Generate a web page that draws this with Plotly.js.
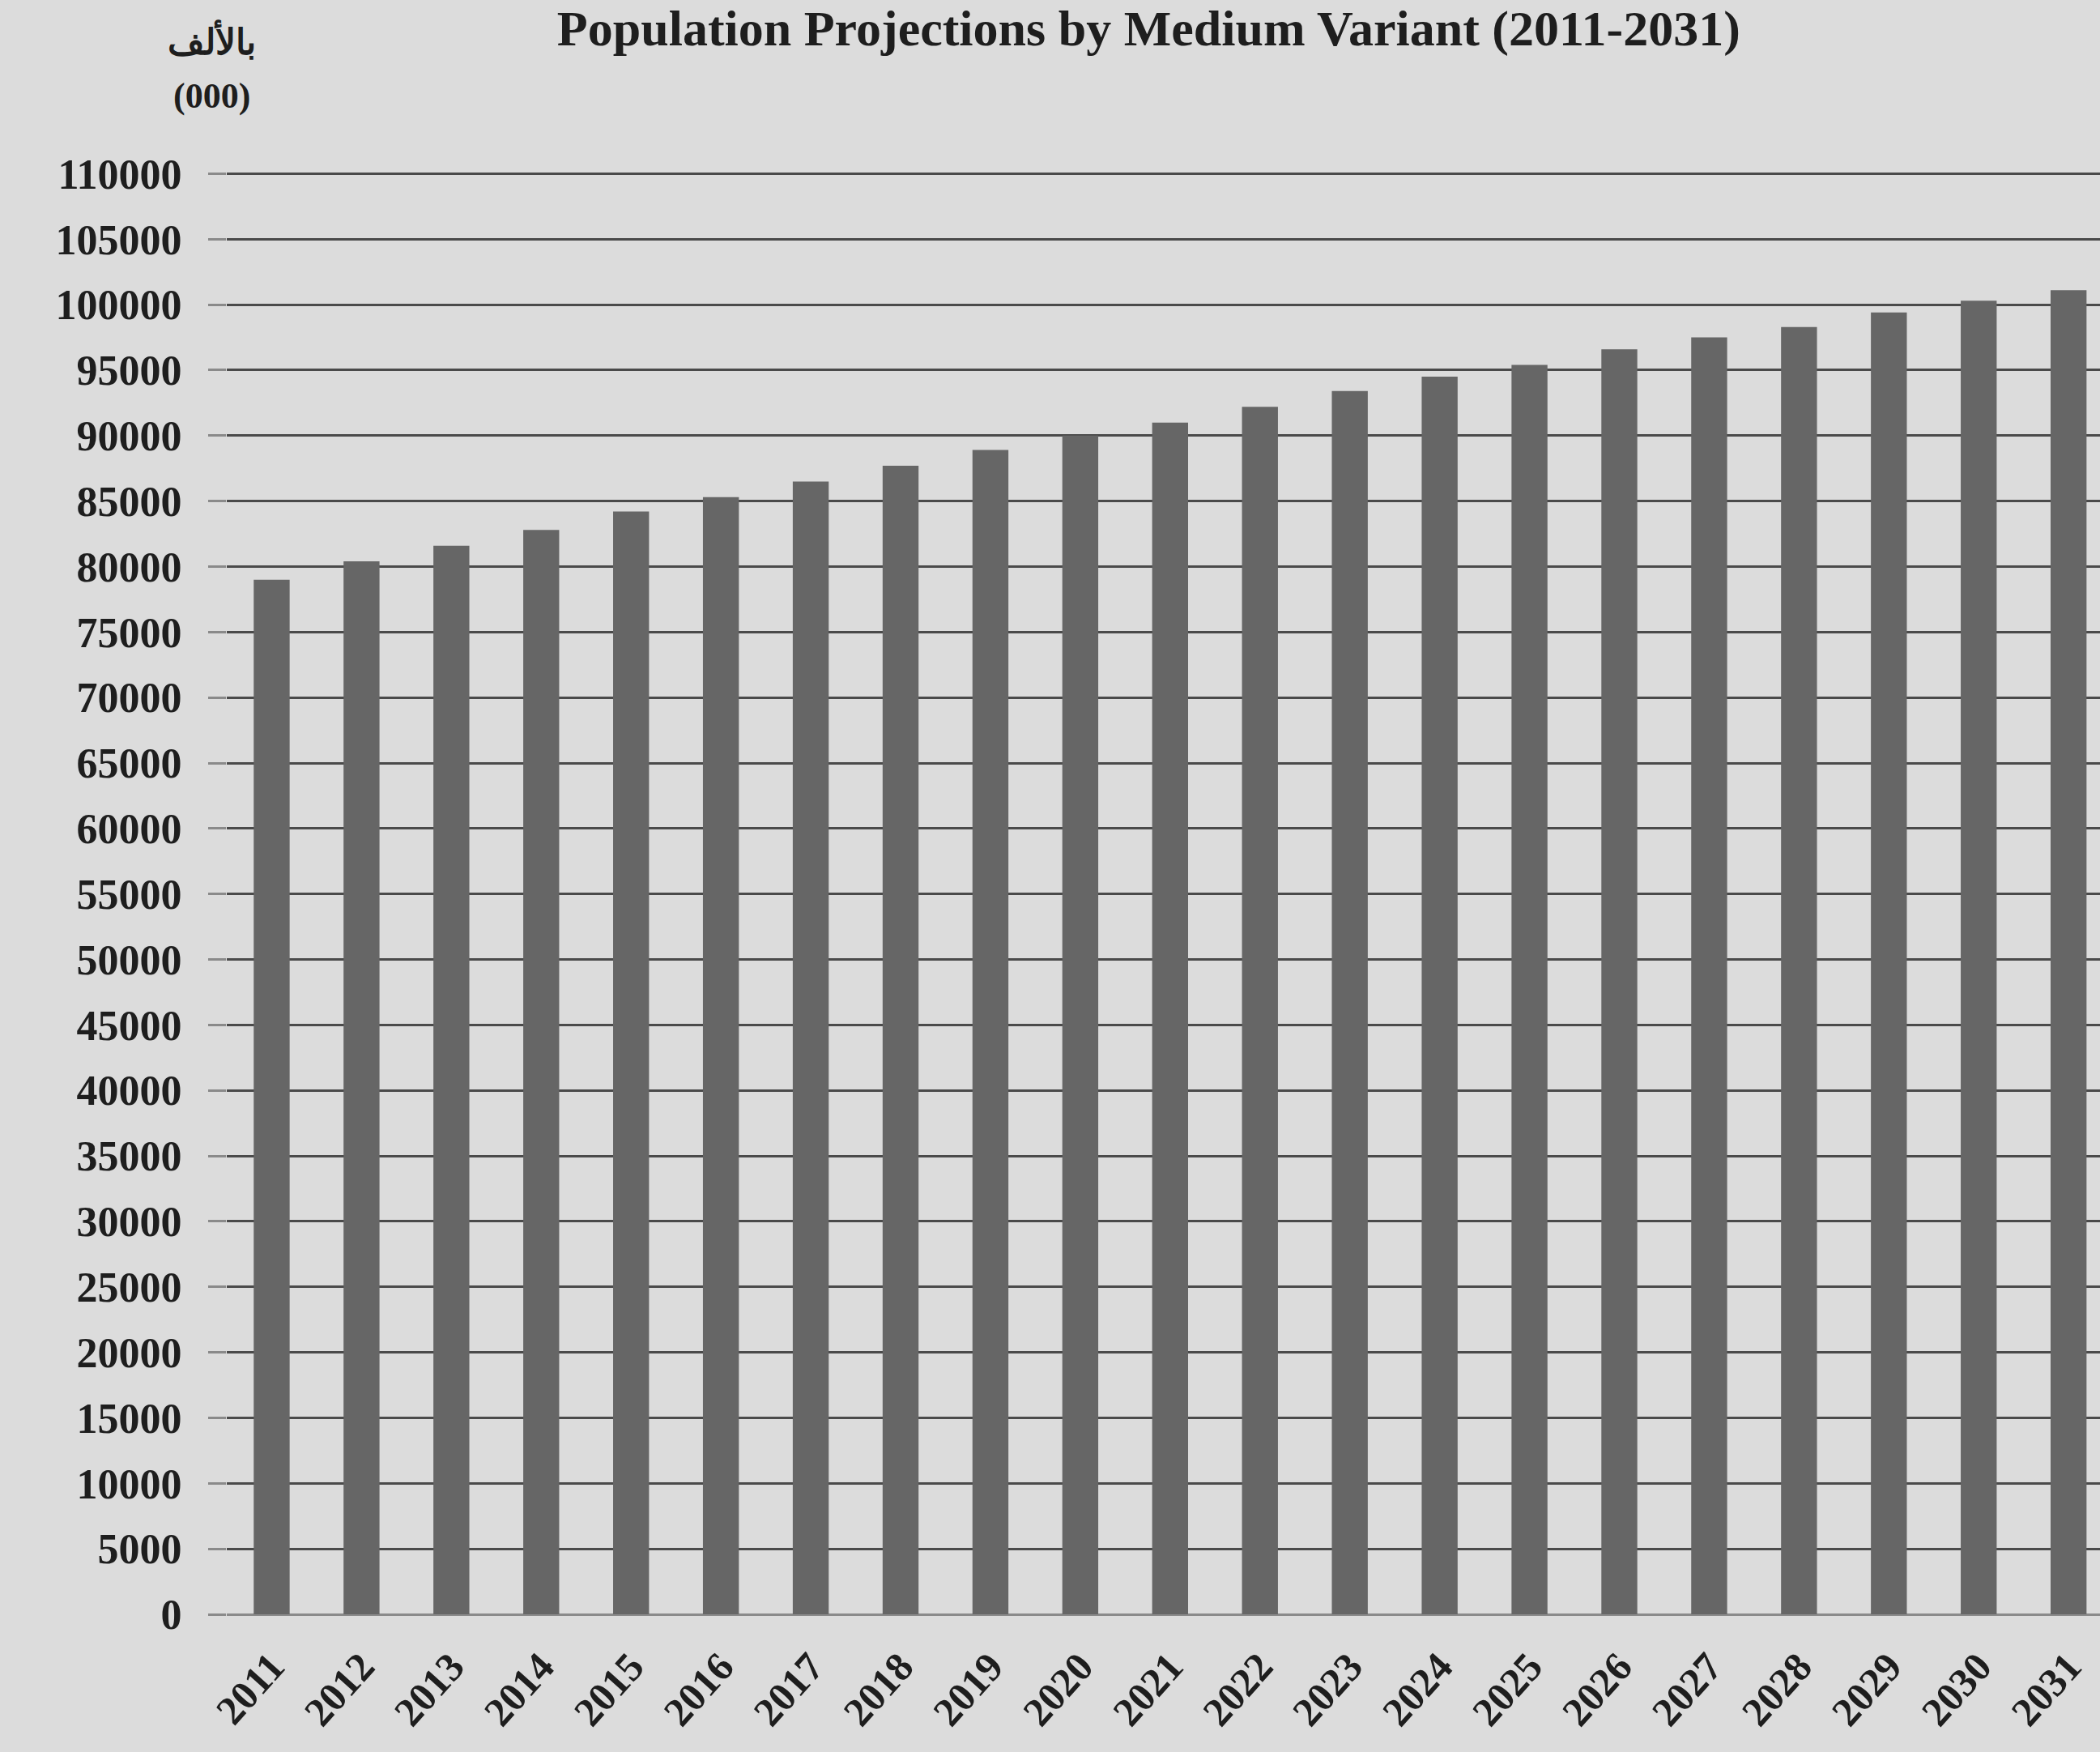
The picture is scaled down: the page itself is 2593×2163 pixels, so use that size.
<!DOCTYPE html>
<html>
<head>
<meta charset="utf-8">
<script src="https://cdn.plot.ly/plotly-3.0.1.min.js"></script>
<style>
  html, body { margin: 0; padding: 0; background: #dcdcdc; }
  #chart { width: 2593px; height: 2163px; }
</style>
</head>
<body>
<div id="chart"></div>
<script>
// Data (population in thousands)
const years = ["2011","2012","2013","2014","2015","2016","2017","2018","2019","2020",
               "2021","2022","2023","2024","2025","2026","2027","2028","2029","2030","2031"];
const population = [79000, 80400, 81600, 82800, 84200, 85300, 86500, 87700, 88900, 90000,
                    91000, 92200, 93400, 94500, 95400, 96600, 97500, 98300, 99400, 100300, 101100];
const yTicks = [0,5000,10000,15000,20000,25000,30000,35000,40000,45000,50000,55000,
                60000,65000,70000,75000,80000,85000,90000,95000,100000,105000,110000];
const titleText = "Population Projections by Medium Variant (2011-2031)";
const unitArabic = "بالألف";
const unitLatin = "(000)";

const serif = "Liberation Serif, Times New Roman, serif";

const trace = {
  type: "bar",
  x: years,
  y: population,
  marker: { color: "#666666", line: { width: 0 } },
  width: 0.4,
  hoverinfo: "x+y"
};

const layout = {
  width: 2593,
  height: 2163,
  paper_bgcolor: "#dcdcdc",
  plot_bgcolor: "#dcdcdc",
  margin: { l: 280, r: 0, t: 208, b: 170 },
  showlegend: false,
  title: {
    text: "<b>" + titleText + "</b>",
    font: { family: serif, size: 62, color: "#1e1e1e" },
    x: 0.547, xref: "container", xanchor: "center",
    y: 0.984, yref: "container", yanchor: "middle"
  },
  xaxis: {
    type: "category",
    range: [-0.5, 20.35],
    tickangle: -48,
    tickfont: { family: serif, size: 50, color: "#1e1e1e", weight: "bold" },
    showgrid: false,
    showline: false,
    ticks: "outside",
    ticklen: 14,
    tickcolor: "rgba(0,0,0,0)",
    zeroline: false
  },
  yaxis: {
    range: [0, 110400],
    tickvals: yTicks,
    ticktext: yTicks.map(v => String(v)),
    tickfont: { family: serif, size: 52, color: "#1e1e1e", weight: "bold" },
    ticks: "outside",
    ticklen: 22,
    tickwidth: 3,
    tickcolor: "#8a8a8a",
    ticklabelstandoff: 22,
    showgrid: true,
    gridcolor: "#4a4a4a",
    gridwidth: 3,
    zeroline: true,
    zerolinecolor: "#8a8a8a",
    zerolinewidth: 3,
    showline: false
  },
  annotations: [
    {
      text: "<b>" + unitArabic + "</b>",
      xref: "paper", yref: "paper",
      x: -0.008, y: 1.088,
      xanchor: "center", yanchor: "middle",
      showarrow: false,
      font: { family: serif, size: 44, color: "#1e1e1e" }
    },
    {
      text: "<b>" + unitLatin + "</b>",
      xref: "paper", yref: "paper",
      x: -0.008, y: 1.05,
      xanchor: "center", yanchor: "middle",
      showarrow: false,
      font: { family: serif, size: 44, color: "#1e1e1e" }
    }
  ]
};

Plotly.newPlot("chart", [trace], layout, { displayModeBar: false, staticPlot: true });
</script>
</body>
</html>
